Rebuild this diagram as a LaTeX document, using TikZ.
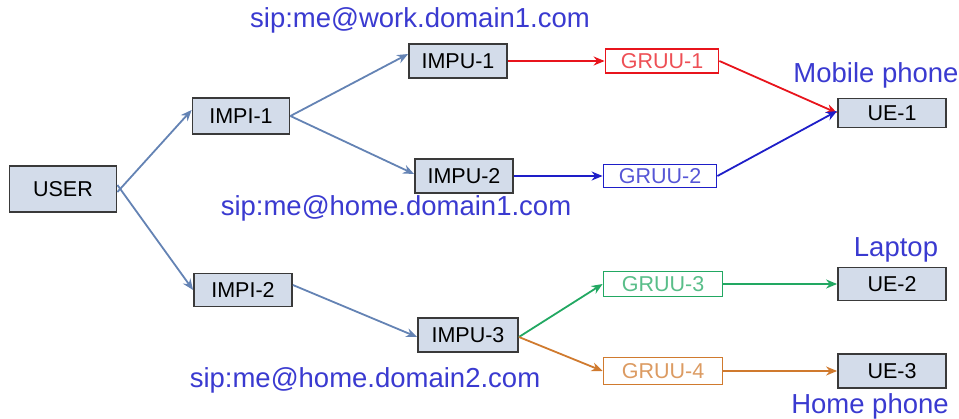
\documentclass[tikz,border=0pt]{standalone}
\usepackage{fontspec}
\setmainfont{Liberation Sans}
\usetikzlibrary{arrows.meta}
\definecolor{boxfill}{HTML}{D3DCEA}
\definecolor{boxline}{HTML}{3A3A3A}
\definecolor{linkblue}{HTML}{6483B4}
\definecolor{sipblue}{HTML}{3A3AD0}
\definecolor{gred}{HTML}{E8141C}
\definecolor{gblue}{HTML}{1E1EC8}
\definecolor{ggreen}{HTML}{22A862}
\definecolor{gorange}{HTML}{D07A2E}
\tikzset{
  entity/.style={draw=boxline, line width=1.8pt, fill=boxfill, minimum height=34pt,
    minimum width=98pt, inner sep=0pt, font=\fontsize{21.5}{22}\selectfont},
  gruu/.style={draw=#1, line width=1.8pt, fill=white, text=#1!75!white, minimum height=24pt,
    minimum width=113pt, inner sep=0pt, font=\fontsize{21.5}{22}\selectfont},
  uebox/.style={entity, minimum width=108pt, minimum height=30pt},
  tag/.style={text=sipblue, inner sep=0pt, font=\fontsize{27.5}{28}\selectfont},
  link/.style={draw=#1, line width=1.8pt, -{Stealth[length=11pt,width=9pt]}},
}
\begin{document}
\begin{tikzpicture}[x=1pt,y=-1pt]
\useasboundingbox (0,0) rectangle (959,418);
% identities
\node[entity, minimum width=107pt, minimum height=46pt] (user) at (63,189) {USER};
\node[entity, minimum width=97pt, minimum height=36pt] (impi1) at (241,116) {IMPI-1};
\node[entity, minimum height=33pt] (impi2) at (243,290) {IMPI-2};
\node[entity] (impu1) at (458,61) {IMPU-1};
\node[entity] (impu2) at (464,176) {IMPU-2};
\node[entity, minimum width=100pt] (impu3) at (468,335) {IMPU-3};
% GRUUs
\node[gruu=gred] (gruu1) at (662,61) {GRUU-1};
\node[gruu=gblue, minimum height=23pt] (gruu2) at (660,176) {GRUU-2};
\node[gruu=ggreen, minimum width=119pt, minimum height=25pt] (gruu3) at (663,284) {GRUU-3};
\node[gruu=gorange, minimum width=119pt, minimum height=27pt] (gruu4) at (663,371) {GRUU-4};
% devices
\node[uebox, minimum height=29pt] (ue1) at (892,113) {UE-1};
\node[uebox, minimum height=33pt] (ue2) at (892,284) {UE-2};
\node[uebox, minimum height=34pt] (ue3) at (892,371) {UE-3};
% labels
\node[tag] (sip1) at (420,20) {sip:me@work.domain1.com};
\node[tag] (sip2) at (396,208) {sip:me@home.domain1.com};
\node[tag] (sip3) at (365,380) {sip:me@home.domain2.com};
\node[tag] (mob) at (876,75) {Mobile phone};
\node[tag] (lap) at (896,250) {Laptop};
\node[tag] (home) at (870,406) {Home phone};
% connectors
\draw[link=linkblue] ([yshift=-3pt]user.east) -- ([yshift=6pt]impi1.west);
\draw[link=linkblue] ([yshift=4pt]user.east) -- (impi2.west);
\draw[link=linkblue] (impi1.east) -- ([yshift=7pt]impu1.west);
\draw[link=linkblue] (impi1.east) -- ([yshift=2pt]impu2.west);
\draw[link=linkblue] ([yshift=5pt]impi2.east) -- ([yshift=-2pt]impu3.west);
\draw[link=gred] (impu1.east) -- (gruu1.west);
\draw[link=gblue] (impu2.east) -- (gruu2.west);
\draw[link=gred] (gruu1.east) -- (ue1.west);
\draw[link=gblue] (gruu2.east) -- ([yshift=2pt]ue1.west);
\draw[link=ggreen] ([yshift=-2pt]impu3.east) -- (gruu3.west);
\draw[link=gorange] ([yshift=-2pt]impu3.east) -- (gruu4.west);
\draw[link=ggreen] (gruu3.east) -- (ue2.west);
\draw[link=gorange] (gruu4.east) -- (ue3.west);
\end{tikzpicture}
\end{document}
